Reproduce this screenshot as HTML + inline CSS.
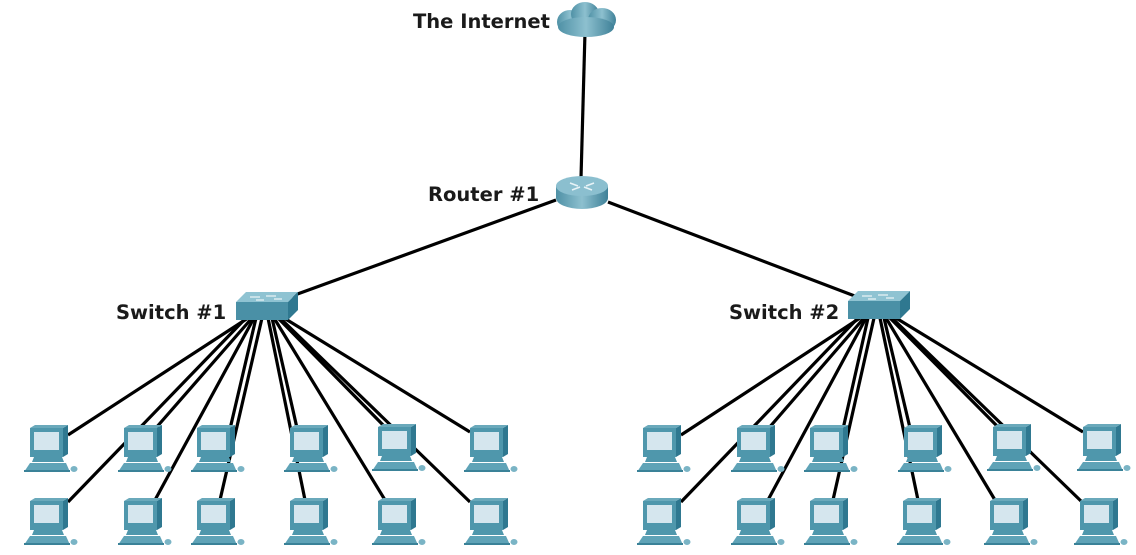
<!DOCTYPE html>
<html><head><meta charset="utf-8"><style>
html,body{margin:0;padding:0;background:#fff;width:1136px;height:555px;overflow:hidden}
svg{display:block}
text{font-family:"DejaVu Sans","Liberation Sans",sans-serif;font-weight:bold;font-size:19.5px;fill:#1a1a1a}
</style></head><body>
<svg width="1136" height="555" viewBox="0 0 1136 555" xmlns="http://www.w3.org/2000/svg">
<defs>
<linearGradient id="tg" x1="0" x2="1" y1="0" y2="0">
<stop offset="0" stop-color="#4f91a6"/><stop offset="0.5" stop-color="#8dc0cf"/><stop offset="1" stop-color="#3f8198"/>
</linearGradient>
<g id="pc">
<polygon points="33,0 38,-3 38,26 33,29" fill="#2f7890"/>
<polygon points="0,0 5,-3 38,-3 33,0" fill="#6aa9bb"/>
<rect x="0" y="0" width="33" height="29" fill="#4f97ac"/>
<rect x="4" y="4" width="25" height="18" fill="#d5e6ee"/>
<polygon points="4,29 32,29 34,34 2,34" fill="#4f97ac"/>
<polygon points="0,35 36,35 40,44 -6,44" fill="#5fa3b7"/>
<rect x="-6" y="42" width="46" height="2" fill="#3a8298"/>
<ellipse cx="44" cy="41" rx="3.5" ry="3" fill="#7ab4c5"/>
</g>
<g id="sw">
<polygon points="0,10 10,0 62,0 52,10" fill="#8fc3d2"/>
<rect x="0" y="10" width="52" height="18" fill="#4a90a6"/>
<polygon points="52,10 62,0 62,18 52,28" fill="#2f7890"/>
<path d="M14,5 h10 M30,4 h10 M38,7 h8 M20,8 h8" stroke="#fff" stroke-width="1"/>
</g>
</defs>
<g stroke="#000" stroke-width="3.2" fill="none">
<line x1="585" y1="32" x2="581" y2="178"/>
<line x1="556" y1="200" x2="292" y2="296"/>
<line x1="608" y1="202" x2="860" y2="298"/>
<line x1="248" y1="318" x2="68" y2="435"/>
<line x1="252" y1="318" x2="155" y2="429"/>
<line x1="256" y1="318" x2="230" y2="429"/>
<line x1="272" y1="318" x2="297" y2="428"/>
<line x1="278" y1="318" x2="385" y2="427"/>
<line x1="284" y1="318" x2="470" y2="432"/>
<line x1="246" y1="318" x2="68" y2="502"/>
<line x1="254" y1="318" x2="155" y2="500"/>
<line x1="262" y1="318" x2="220" y2="500"/>
<line x1="268" y1="318" x2="305" y2="500"/>
<line x1="274" y1="318" x2="385" y2="500"/>
<line x1="280" y1="318" x2="470" y2="502"/>
<line x1="860" y1="318" x2="681" y2="435"/>
<line x1="864" y1="318" x2="768" y2="429"/>
<line x1="868" y1="318" x2="843" y2="429"/>
<line x1="884" y1="318" x2="910" y2="428"/>
<line x1="890" y1="318" x2="998" y2="427"/>
<line x1="896" y1="318" x2="1083" y2="432"/>
<line x1="858" y1="318" x2="681" y2="502"/>
<line x1="866" y1="318" x2="768" y2="500"/>
<line x1="874" y1="318" x2="833" y2="500"/>
<line x1="880" y1="318" x2="918" y2="500"/>
<line x1="886" y1="318" x2="995" y2="500"/>
<line x1="892" y1="318" x2="1082" y2="502"/>
</g>
<use href="#pc" x="30" y="428"/><use href="#pc" x="124" y="428"/><use href="#pc" x="197" y="428"/>
<use href="#pc" x="290" y="428"/><use href="#pc" x="378" y="427"/><use href="#pc" x="470" y="428"/>
<use href="#pc" x="30" y="501"/><use href="#pc" x="124" y="501"/><use href="#pc" x="197" y="501"/>
<use href="#pc" x="290" y="501"/><use href="#pc" x="378" y="501"/><use href="#pc" x="470" y="501"/>
<use href="#pc" x="643" y="428"/><use href="#pc" x="737" y="428"/><use href="#pc" x="810" y="428"/>
<use href="#pc" x="904" y="428"/><use href="#pc" x="993" y="427"/><use href="#pc" x="1083" y="427"/>
<use href="#pc" x="643" y="501"/><use href="#pc" x="737" y="501"/><use href="#pc" x="810" y="501"/>
<use href="#pc" x="903" y="501"/><use href="#pc" x="990" y="501"/><use href="#pc" x="1080" y="501"/>
<use href="#sw" x="236" y="292"/>
<use href="#sw" x="848" y="291"/>
<rect x="556" y="186" width="52" height="12" fill="url(#tg)"/>
<ellipse cx="582" cy="198" rx="26" ry="11" fill="url(#tg)"/>
<ellipse cx="582" cy="186" rx="26" ry="10" fill="#8bbfcf"/>
<path d="M570,183 l8,3 M594,183 l-8,3 M572,190 l8,-3 M592,190 l-8,-3" stroke="#e8f3f7" stroke-width="1.5"/>
<g fill="url(#tg)">
<ellipse cx="570" cy="22" rx="13" ry="12"/>
<ellipse cx="585" cy="14" rx="14" ry="12"/>
<ellipse cx="602" cy="20" rx="14" ry="12"/>
<ellipse cx="586" cy="27" rx="28" ry="10"/>
</g>
<text x="413" y="28">The Internet</text>
<text x="428" y="201">Router #1</text>
<text x="116" y="319">Switch #1</text>
<text x="729" y="319">Switch #2</text>
</svg>
</body></html>
